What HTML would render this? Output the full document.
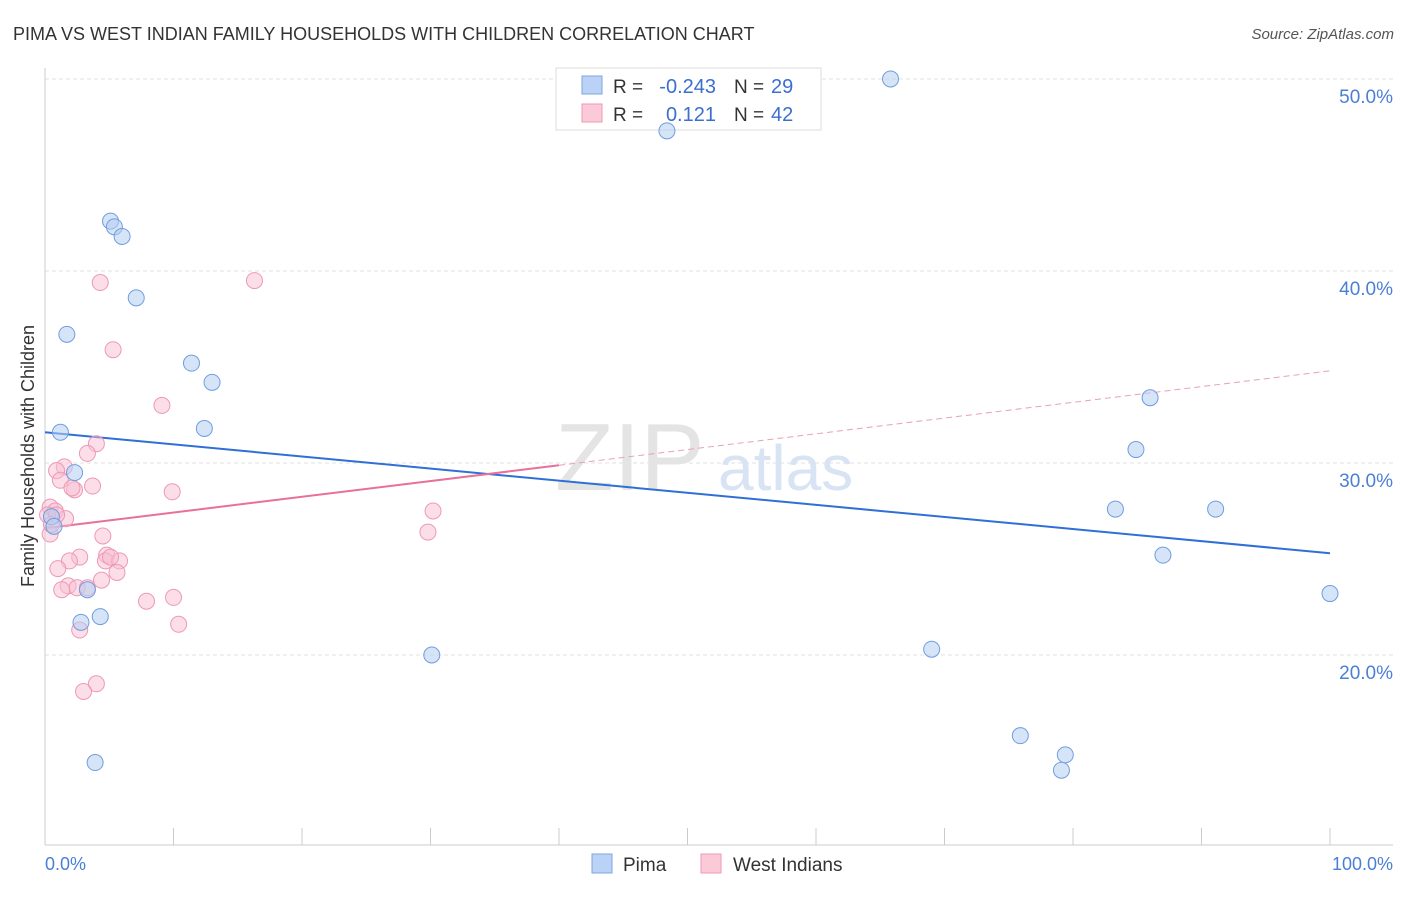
<!DOCTYPE html>
<html><head><meta charset="utf-8"><style>
body{margin:0;background:#fff;font-family:"Liberation Sans",sans-serif}
svg text{font-family:"Liberation Sans",sans-serif}
</style></head><body>
<svg width="1406" height="892" viewBox="0 0 1406 892">
<text x="13" y="40" font-size="18" fill="#333">PIMA VS WEST INDIAN FAMILY HOUSEHOLDS WITH CHILDREN CORRELATION CHART</text>
<text x="1394" y="39" font-size="15" fill="#555" font-style="italic" text-anchor="end">Source: ZipAtlas.com</text>
<g id="grid"></g>
<text x="555" y="490" font-size="96" fill="#e4e4e4" font-family="Liberation Serif">ZIP</text>
<text x="718" y="490" font-size="64" fill="#d8e4f4">atlas</text>
<line x1="45" y1="68" x2="45" y2="845" stroke="#ccc"/>
<line x1="45" y1="845" x2="1393" y2="845" stroke="#ccc"/>
<g id="xticks"></g>
<text x="45" y="870" font-size="18" fill="#4a7fd6">0.0%</text>
<text x="1393" y="870" font-size="18" fill="#4a7fd6" text-anchor="end">100.0%</text>
<text transform="translate(34,456) rotate(-90)" font-size="18" fill="#333" text-anchor="middle">Family Households with Children</text>
<g>
<rect x="556" y="68" width="265" height="62" fill="#fff" stroke="#ddd"/>
<rect x="582" y="76" width="20" height="18" fill="#b9d2f5" stroke="#7ea6e0"/>
<rect x="582" y="104" width="20" height="18" fill="#fbc9d8" stroke="#ef9ab5"/>
<text x="613" y="93" font-size="19" fill="#333">R =</text>
<text x="716" y="93" font-size="20" fill="#3a6fd0" text-anchor="end">-0.243</text>
<text x="734" y="93" font-size="19" fill="#333">N =</text>
<text x="771" y="93" font-size="20" fill="#3a6fd0">29</text>
<text x="613" y="121" font-size="19" fill="#333">R =</text>
<text x="716" y="121" font-size="20" fill="#3a6fd0" text-anchor="end">0.121</text>
<text x="734" y="121" font-size="19" fill="#333">N =</text>
<text x="771" y="121" font-size="20" fill="#3a6fd0">42</text>
</g>
<g id="lines"></g>
<g id="pts"></g>
<g>
<rect x="592" y="854" width="20" height="19" fill="#b9d2f5" stroke="#7ea6e0"/>
<text x="623" y="871" font-size="19" fill="#333">Pima</text>
<rect x="701" y="854" width="20" height="19" fill="#fbc9d8" stroke="#ef9ab5"/>
<text x="733" y="871" font-size="19" fill="#333">West Indians</text>
</g>
</svg>
<script>
const yTicks=[20,30,40,50];
const pimaX=[65.8,48.4,5.1,5.4,6.0,7.1,1.7,11.4,13.0,1.2,12.4,2.3,0.5,0.7,3.3,2.8,4.3,3.9,30.1,86.0,84.9,83.3,91.1,87.0,100,69.0,75.9,79.4,79.1];
const pimaY=[50.0,47.3,42.6,42.3,41.8,38.6,36.7,35.2,34.2,31.6,31.8,29.5,27.2,26.7,23.4,21.7,22.0,14.4,20.0,33.4,30.7,27.6,27.6,25.2,23.2,20.3,15.8,14.8,14.0];
const wiX=[4.3,16.3,5.3,9.1,4.0,3.3,1.5,0.9,1.2,3.7,2.3,9.9,0.4,0.8,0.2,1.6,0.9,30.2,29.8,4.5,0.4,2.7,1.9,4.8,4.7,5.8,1.0,5.6,4.4,1.8,2.5,1.3,3.3,7.9,10.0,10.4,2.7,4.0,3.0,0.5,5.1,2.1];
const wiY=[39.4,39.5,35.9,33.0,31.0,30.5,29.8,29.6,29.1,28.8,28.6,28.5,27.7,27.5,27.3,27.1,27.3,27.5,26.4,26.2,26.3,25.1,24.9,25.2,24.9,24.9,24.5,24.3,23.9,23.6,23.5,23.4,23.5,22.8,23.0,21.6,21.3,18.5,18.1,26.8,25.1,28.7];
const pimaTrend=[31.6,25.3];
const wiTrend=[26.6,34.8];
const wiSolidEnd=40;
const NS='http://www.w3.org/2000/svg';
const sx=v=>45+v*12.85;
const sy=v=>79+(50-v)*19.2;
function mk(t,a,p){const e=document.createElementNS(NS,t);for(const k in a)e.setAttribute(k,a[k]);p.appendChild(e);return e;}
const grid=document.getElementById('grid');
yTicks.forEach(v=>{
 const l=mk('line',{x1:45,x2:1393,y1:sy(v),y2:sy(v),stroke:'#e2e2e2','stroke-dasharray':'4,3'},grid);
 
 
 const t=mk('text',{x:1393,y:sy(v)+24,'font-size':19,fill:'#4a7fd6','text-anchor':'end'},grid);
 t.textContent=v.toFixed(1)+'%';
 
 
});
const xt=document.getElementById('xticks');
for(let i=0;i<=10;i++){const l=mk('line',{x1:sx(i*10),x2:sx(i*10),y1:828,y2:845,stroke:'#ccc'},xt);
 
 }
const ln=document.getElementById('lines');
let a=mk('line',{x1:sx(0),y1:sy(pimaTrend[0]),x2:sx(100),y2:sy(pimaTrend[1]),stroke:'#2f6fd6','stroke-width':2},ln);


const wm=wiTrend[0]+(wiTrend[1]-wiTrend[0])*wiSolidEnd/100;
a=mk('line',{x1:sx(0),y1:sy(wiTrend[0]),x2:sx(wiSolidEnd),y2:sy(wm),stroke:'#e8709a','stroke-width':2},ln);


a=mk('line',{x1:sx(wiSolidEnd),y1:sy(wm),x2:sx(100),y2:sy(wiTrend[1]),stroke:'#e8a0b8','stroke-width':1,'stroke-dasharray':'6,4'},ln);


const pts=document.getElementById('pts');
wiX.forEach((x,i)=>{const c=mk('circle',{cx:sx(x),cy:sy(wiY[i]),r:8,fill:'rgba(248,190,210,0.5)',stroke:'#ee98b6','stroke-width':1},pts);
 
 });
pimaX.forEach((x,i)=>{const c=mk('circle',{cx:sx(x),cy:sy(pimaY[i]),r:8,fill:'rgba(180,205,242,0.55)',stroke:'#6f9ddf','stroke-width':1},pts);
 
 });
</script>
</body></html>
